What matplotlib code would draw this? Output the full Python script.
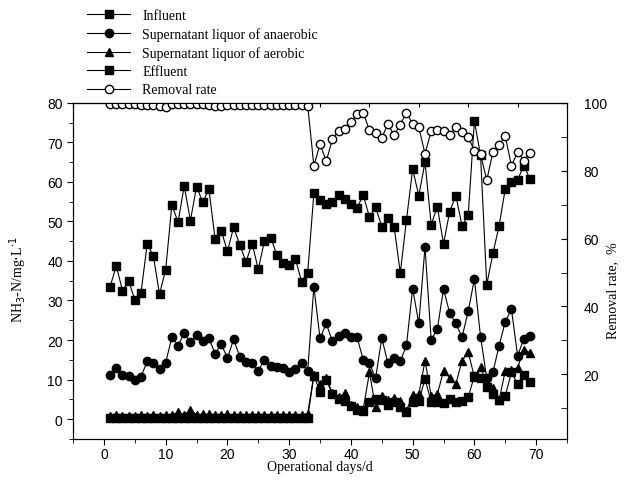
import numpy as np
import matplotlib
matplotlib.use('Agg')
import matplotlib.pyplot as plt
from matplotlib.ticker import MultipleLocator, FixedLocator

days = list(range(1, 70))

influent = [33.5, 38.8, 32.5, 34.9, 30.2, 31.9, 44.3, 41.3, 31.6, 37.8,
            54.2, 49.8, 59.0, 50.2, 58.8, 54.9, 58.1, 45.6, 47.7, 42.4,
            48.5, 44.1, 39.8, 44.4, 37.9, 45.1, 45.9, 41.6, 39.5, 39.1,
            40.6, 34.8, 37.0, 57.1, 55.4, 54.3, 54.8, 56.8, 55.7, 54.3,
            53.4, 56.7, 51.1, 53.6, 48.7, 50.8, 48.6, 37.0, 50.4, 63.2,
            56.5, 65.0, 49.2, 53.7, 44.3, 52.5, 56.5, 48.9, 51.5, 75.4,
            66.7, 34.0, 41.9, 48.9, 58.2, 59.9, 60.5, 64.1, 60.8]

anaerobic = [11.1, 12.9, 11.1, 11.0, 9.9, 10.7, 14.6, 14.1, 12.7, 14.3,
             20.7, 18.6, 21.7, 19.4, 21.4, 19.8, 20.5, 16.5, 19.0, 15.4,
             20.2, 15.8, 14.5, 14.3, 12.2, 15.0, 13.5, 13.1, 12.9, 12.0,
             12.8, 14.1, 12.2, 33.5, 20.4, 24.2, 19.7, 20.9, 21.8, 20.8,
             20.7, 15.0, 14.1, 10.4, 20.5, 14.1, 15.4, 14.6, 18.7, 33.0,
             24.2, 43.5, 20.0, 22.8, 32.9, 26.8, 24.2, 20.7, 27.3, 35.4,
             20.8, 10.4, 11.8, 18.6, 24.6, 27.8, 16.0, 20.3, 21.1]

aerobic = [0.8, 1.0, 0.8, 0.9, 0.8, 1.1, 0.9, 1.0, 0.9, 1.1,
           1.0, 1.8, 1.0, 2.4, 1.1, 1.2, 1.2, 1.0, 1.1, 1.2,
           1.0, 1.1, 1.0, 1.1, 1.0, 1.1, 1.1, 1.0, 1.1, 1.0,
           1.1, 1.1, 1.4, 11.1, 8.9, 10.5, 6.5, 5.5, 6.5, 3.6,
           3.0, 2.5, 11.8, 3.0, 5.9, 4.8, 5.3, 4.6, 2.1, 6.2,
           6.3, 14.8, 5.9, 6.3, 12.2, 10.5, 8.9, 14.8, 16.9, 10.7,
           13.2, 8.9, 7.8, 4.8, 12.2, 12.4, 13.0, 17.6, 16.8]

effluent = [0.3, 0.3, 0.2, 0.3, 0.2, 0.3, 0.3, 0.3, 0.2, 0.3,
            0.3, 0.4, 0.3, 0.4, 0.3, 0.3, 0.3, 0.2, 0.3, 0.3,
            0.3, 0.3, 0.3, 0.3, 0.3, 0.3, 0.3, 0.3, 0.3, 0.3,
            0.3, 0.3, 0.3, 11.0, 6.9, 10.0, 6.3, 5.1, 4.6, 3.4,
            2.4, 2.1, 4.4, 5.1, 4.9, 3.5, 4.4, 3.0, 1.8, 4.4,
            4.6, 10.1, 4.4, 4.4, 4.1, 5.1, 4.4, 4.6, 5.5, 11.0,
            10.5, 8.0, 6.3, 4.9, 5.9, 11.8, 8.9, 11.2, 9.3]

removal = [99.5, 99.5, 99.5, 99.5, 99.5, 99.4, 99.4, 99.3, 99.0, 98.7,
           99.7, 99.5, 99.5, 99.5, 99.5, 99.5, 99.4, 99.2, 99.2, 99.3,
           99.4, 99.4, 99.4, 99.4, 99.4, 99.4, 99.4, 99.4, 99.4, 99.4,
           99.3, 99.3, 99.2, 81.4, 87.9, 82.8, 89.2, 91.8, 92.4, 94.4,
           96.6, 97.1, 91.9, 91.2, 89.7, 93.8, 90.4, 93.6, 97.1, 93.8,
           92.8, 85.0, 91.6, 91.9, 91.8, 90.6, 92.8, 91.4, 89.9, 85.9,
           84.8, 77.2, 85.5, 87.6, 90.2, 81.4, 85.5, 83.0, 85.3]

serif = 'Liberation Serif'
plt.rcParams['font.family'] = 'Liberation Sans'

fig = plt.figure(figsize=(6.3, 4.85), dpi=100)
ax = fig.add_axes([0.116, 0.093, 0.784, 0.693])

lw = 0.8
ms = 6
l1, = ax.plot(days, influent, '-s', color='black', lw=lw, ms=ms, label='Influent')
l2, = ax.plot(days, anaerobic, '-o', color='black', lw=lw, ms=ms, label='Supernatant liquor of anaerobic')
l3, = ax.plot(days, aerobic, '-^', color='black', lw=lw, ms=ms, label='Supernatant liquor of aerobic')
l4, = ax.plot(days, effluent, '-s', color='black', lw=lw, ms=ms, label='Effluent')

ax2 = ax.twinx()
l5, = ax2.plot(days, removal, '-o', color='black', lw=lw, ms=ms, mfc='white', label='Removal rate')

ax.set_xlim(-5, 75)
ax.set_ylim(-5, 80)
ax2.set_ylim(1, 100)

ax.xaxis.set_major_locator(MultipleLocator(10))
ax.xaxis.set_minor_locator(MultipleLocator(5))
ax.yaxis.set_major_locator(MultipleLocator(10))
ax.yaxis.set_minor_locator(MultipleLocator(5))
ax2.yaxis.set_major_locator(FixedLocator([20, 40, 60, 80, 100]))
ax2.yaxis.set_minor_locator(FixedLocator([10, 30, 50, 70, 90]))

ax.tick_params(which='both', direction='out', labelsize=10, top=False)
ax.tick_params(which='major', length=4)
ax.tick_params(which='minor', length=3)
ax.tick_params(axis='x', which='both', pad=2)
ax2.tick_params(which='both', direction='in', labelsize=10, pad=12)
ax2.tick_params(which='major', length=4)
ax2.tick_params(which='minor', length=4)

# top edge has its own unlabelled ticks
top = ax.secondary_xaxis('top', functions=(lambda x: (x + 5) / 8.0, lambda t: t * 8.0 - 5))
top.set_xticks(np.arange(0, 11, 1))
top.tick_params(direction='in', length=3, labeltop=False)

ax.set_xlabel('Operational days/d', family=serif, fontsize=10, labelpad=-1)
ax.set_ylabel('NH$_3$-N/mg$\\cdot$L$^{\\cdot1}$', family=serif, fontsize=10)
ax2.set_ylabel('Removal rate,  %', family=serif, fontsize=10)
ax.yaxis.set_label_coords(-0.09, 0.476)
ax2.yaxis.set_label_coords(1.079, 0.443)

fig.legend([l1, l2, l3, l4, l5], [h.get_label() for h in [l1, l2, l3, l4, l5]],
           loc='upper left', bbox_to_anchor=(0.123, 1.0), frameon=False,
           prop={'family': serif, 'size': 10}, handlelength=3.1,
           borderpad=0.2, labelspacing=0.38, handletextpad=0.85)

fig.savefig('out.png', dpi=100)
